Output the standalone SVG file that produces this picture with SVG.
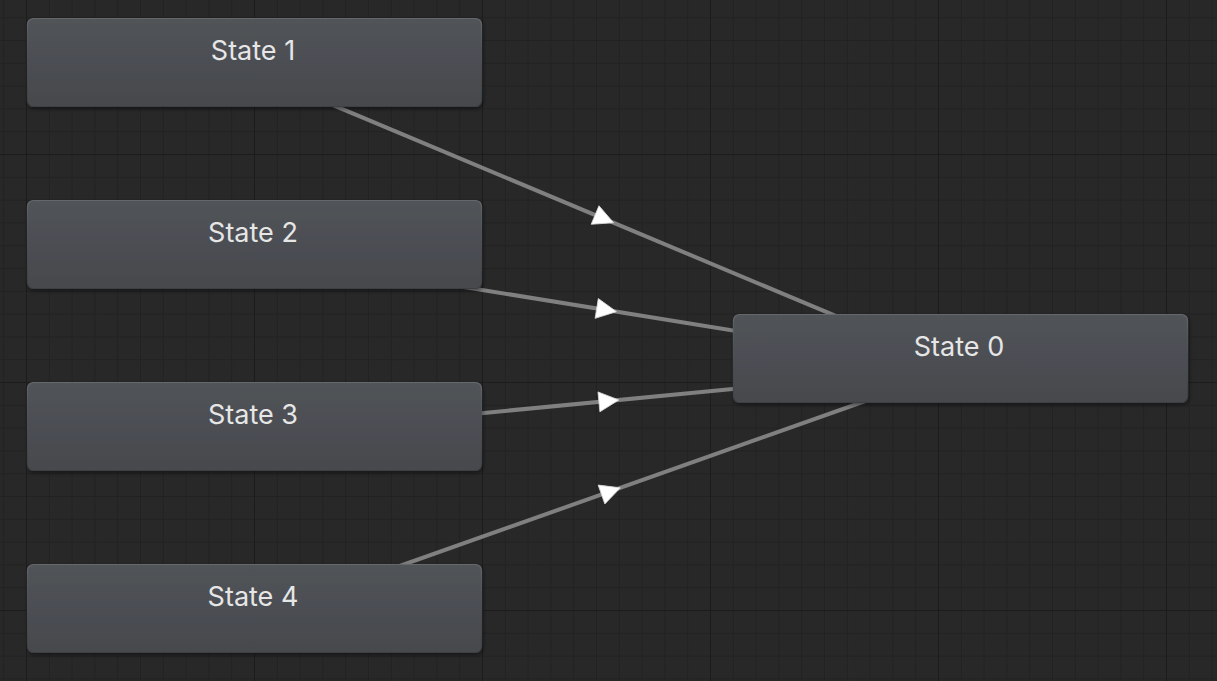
<svg xmlns="http://www.w3.org/2000/svg" width="1217" height="681" viewBox="0 0 1217 681">
  <defs>
    <pattern id="minor" x="26" y="154" width="22.8" height="22.8" patternUnits="userSpaceOnUse">
      <path d="M0.5 0 V22.8 M0 0.5 H22.8" stroke="#222222" stroke-width="1" fill="none"/>
    </pattern>
    <pattern id="major" x="26" y="154" width="228" height="228" patternUnits="userSpaceOnUse">
      <path d="M0.5 0 V228 M0 0.5 H228" stroke="#1c1c1c" stroke-width="1.2" fill="none"/>
    </pattern>
    <linearGradient id="nodeFill" x1="0" y1="0" x2="0" y2="1">
      <stop offset="0" stop-color="#515459"/>
      <stop offset="1" stop-color="#46494d"/>
    </linearGradient>
    <linearGradient id="nodeEdge" x1="0" y1="0" x2="0" y2="1">
      <stop offset="0" stop-color="#64676b"/>
      <stop offset="0.2" stop-color="#55585c"/>
      <stop offset="1" stop-color="#3d4043"/>
    </linearGradient>
    <filter id="shadow" x="-5%" y="-20%" width="110%" height="150%">
      <feDropShadow dx="1" dy="2" stdDeviation="2" flood-color="#000" flood-opacity="0.45"/>
    </filter>
    <polygon id="arrow" points="11,0 -9,-10 -9,10" fill="#ffffff" stroke="#d8d8d8" stroke-width="0.8" stroke-linejoin="round"/>
  </defs>
  <style>
    .node rect { fill: url(#nodeFill); stroke: url(#nodeEdge); stroke-width: 1.2; filter: url(#shadow); }
    .node text { font-family: Inter, "Noto Sans", "Liberation Sans", sans-serif; font-size: 27px; fill: #e6e6e6; text-anchor: middle; }
    .edge { stroke: #808080; stroke-width: 4; stroke-linecap: butt; fill: none; }
  </style>

  <rect x="0" y="0" width="1217" height="681" fill="#282828"/>
  <rect x="0" y="0" width="1217" height="681" fill="url(#minor)"/>
  <rect x="0" y="0" width="1217" height="681" fill="url(#major)"/>

  <g id="connectors">
    <line class="edge" x1="250.4" y1="70.5" x2="956.4" y2="366.5"/>
    <line class="edge" x1="252.6" y1="252.9" x2="958.6" y2="366.9"/>
    <line class="edge" x1="254.9" y1="435" x2="960.9" y2="367"/>
    <line class="edge" x1="257" y1="616.5" x2="963" y2="366.5"/>
    <use href="#arrow" transform="translate(603.4 218.5) rotate(22.75)"/>
    <use href="#arrow" transform="translate(605.6 309.9) rotate(9.17)"/>
    <use href="#arrow" transform="translate(607.9 401) rotate(-5.5)"/>
    <use href="#arrow" transform="translate(610 491.5) rotate(-19.5)"/>
  </g>

  <g id="state1" class="node">
    <rect x="27.5" y="18.5" width="454" height="88" rx="6"/>
    <text x="253" y="60">State 1</text>
  </g>
  <g id="state2" class="node">
    <rect x="27.5" y="200.5" width="454" height="88" rx="6"/>
    <text x="253" y="242">State 2</text>
  </g>
  <g id="state3" class="node">
    <rect x="27.5" y="382.5" width="454" height="88" rx="6"/>
    <text x="253" y="424">State 3</text>
  </g>
  <g id="state4" class="node">
    <rect x="27.5" y="564.5" width="454" height="88" rx="6"/>
    <text x="253" y="606">State 4</text>
  </g>
  <g id="state0" class="node">
    <rect x="733.5" y="314.5" width="454" height="88" rx="6"/>
    <text x="959" y="356">State 0</text>
  </g>
</svg>
